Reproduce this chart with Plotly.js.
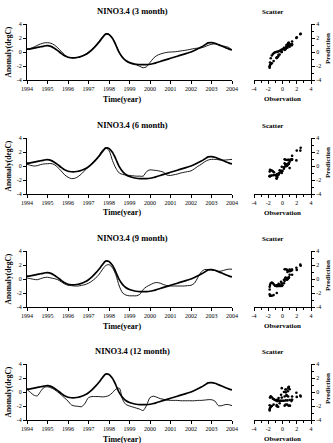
<!DOCTYPE html>
<html><head><meta charset="utf-8">
<script src="https://cdn.plot.ly/plotly-3.0.1.min.js"></script>
<style>html,body{margin:0;padding:0;background:#fff;}#chart{width:333px;height:443px;}</style>
</head><body><div id="chart"></div>
<script>
// ---- data (values every 2 months, Jan 1994 .. Jan 2004) ----
const startYear = 1994;
const stepYears = 2 / 12;
const yearTicks = [1994,1995,1996,1997,1998,1999,2000,2001,2002,2003,2004];
const panelTitles = ["NINO3.4 (3 month)","NINO3.4 (6 month)","NINO3.4 (9 month)","NINO3.4 (12 month)"];
const scatterTicks = [-4,-2,0,2,4];
const anomalyTicks = [-4,-2,0,2,4];

const observed = [
  0.4, 0.45, 0.55, 0.65, 0.75, 0.85,
  0.9, 0.8, 0.55, 0.2, -0.2, -0.55,
  -0.75, -0.82, -0.82, -0.75, -0.6, -0.4,
  -0.1, 0.3, 0.8, 1.35, 2.0, 2.55,
  2.5, 1.95, 1.0, -0.1, -0.8, -1.25,
  -1.5, -1.65, -1.75, -1.8, -1.8, -1.8,
  -1.75, -1.65, -1.5, -1.35, -1.2, -1.05,
  -0.9, -0.75, -0.6, -0.45, -0.3, -0.15,
  0.0, 0.2, 0.45, 0.7, 1.0, 1.3,
  1.35, 1.25, 1.05, 0.85, 0.65, 0.45,
  0.3];
const pred3 = [
  0.4, 0.5, 0.7, 0.95, 1.15, 1.3,
  1.33, 1.25, 1.0, 0.6, 0.1, -0.4,
  -0.75, -0.85, -0.85, -0.78, -0.6, -0.35,
  0.0, 0.4, 0.9, 1.5, 2.1, 2.6,
  2.55, 2.0, 1.0, 0.0, -0.8, -1.3,
  -1.6, -1.75, -1.85, -2.05, -2.25, -2.1,
  -1.5, -0.9, -0.5, -0.3, -0.15, -0.05,
  0.0, 0.02, 0.08, 0.15, 0.22, 0.3,
  0.4, 0.5, 0.55, 0.6, 0.75, 0.95,
  1.1, 1.15, 1.05, 0.9, 0.8, 0.65,
  0.3];
const pred6 = [
  0.25, 0.1, 0.0, 0.05, 0.2, 0.3,
  0.33, 0.35, 0.2, -0.2, -0.7, -1.25,
  -1.6, -1.8, -1.75, -1.5, -1.1, -0.6,
  -0.1, 0.4, 0.9, 1.45, 2.2, 2.6,
  2.2, 0.8, -0.3, -1.0, -1.2, -1.3,
  -1.35, -1.4, -1.45, -1.45, -1.45, -0.8,
  -0.55, -0.6, -0.65, -0.75, -0.9, -1.3,
  -1.35, -1.25, -1.15, -1.0, -0.9, -0.8,
  -0.7, -0.4, -0.05, 0.25, 0.6, 0.85,
  0.95, 0.95, 0.9, 0.85, 0.85, 0.9,
  0.95];
const pred9 = [
  0.15, 0.05, -0.05, -0.1, 0.05, 0.2,
  0.25, 0.15, 0.05, -0.1, -0.4, -0.7,
  -0.9, -0.95, -1.0, -1.0, -0.9, -0.8,
  -0.6, -0.3, 0.1, 0.6, 1.3, 1.9,
  2.05, 1.6, 0.6, -1.0, -2.0, -2.3,
  -2.4, -2.4, -2.4, -2.2, -1.5, -1.1,
  -0.85, -0.6, -0.5, -0.6, -0.8, -0.95,
  -1.0, -1.0, -1.0, -1.0, -1.0, -0.95,
  -0.9, -0.6, 0.2, 1.0, 1.35, 1.35,
  1.3, 1.2, 1.1, 1.15, 1.3, 1.4,
  1.4];
const pred12 = [
  0.35, -0.05, -0.45, -0.55, 0.1, 0.65,
  0.75, 0.6, 0.35, 0.0, -0.4, -0.85,
  -1.3, -1.85, -2.0, -2.05, -2.1, -1.6,
  -0.8, -0.65, -0.65, -0.65, -0.7, -0.65,
  -0.5, -0.1, 0.4, 0.55, -1.1, -1.8,
  -2.0, -2.15, -2.3, -2.45, -2.65, -1.9,
  -0.8, -0.6, -0.75, -0.95, -1.05, -1.15,
  -1.2, -1.2, -1.2, -1.25, -1.25, -1.25,
  -1.25, -1.25, -1.2, -1.2, -1.15, -1.1,
  -1.1, -1.3, -1.95, -1.95, -1.8, -1.8,
  -1.95];
const predictions = [pred3, pred6, pred9, pred12];

// ---- build figure ----
const W = 333, H = 443;
const times = observed.map((_, i) => startYear + i * stepYears);
const FONT = "Liberation Serif, Times New Roman, serif";
const px = v => v / W;
const py = v => 1 - v / H;

const tops = [24, 138, 251, 364];
const plotH = 56;
const tsX = [27, 232];
const scX = [254, 311];

const data = [];
const layout = {
  width: W, height: H,
  margin: {l: 0, r: 0, t: 0, b: 0},
  paper_bgcolor: '#fff', plot_bgcolor: '#fff',
  showlegend: false,
  font: {family: FONT, color: '#000', size: 6},
  annotations: []
};

function ann(text, x, y, size, opts) {
  layout.annotations.push(Object.assign({
    text: text, xref: 'paper', yref: 'paper', x: px(x), y: py(y),
    xanchor: 'center', yanchor: 'middle', showarrow: false,
    font: {family: FONT, size: size, color: '#000'}
  }, opts || {}));
}

for (let i = 0; i < 4; i++) {
  const a = 2 * i + 1, b = 2 * i + 2;
  const top = tops[i];
  const yDom = [py(top + plotH), py(top)];
  // time series
  data.push({x: times, y: predictions[i], xaxis: 'x' + a, yaxis: 'y' + a, type: 'scatter', mode: 'lines',
    line: {color: '#000', width: 0.9, shape: 'spline', smoothing: 0.8}, hoverinfo: 'skip'});
  data.push({x: times, y: observed, xaxis: 'x' + a, yaxis: 'y' + a, type: 'scatter', mode: 'lines',
    line: {color: '#000', width: 1.7, shape: 'spline', smoothing: 0.8}, hoverinfo: 'skip'});
  // scatter
  data.push({x: observed, y: predictions[i], xaxis: 'x' + b, yaxis: 'y' + b, type: 'scatter', mode: 'markers',
    marker: {color: '#000', size: 2.6, symbol: 'circle'}, hoverinfo: 'skip'});

  const common = {showgrid: false, zeroline: false, showline: true, linecolor: '#000', linewidth: 1,
    ticks: 'outside', ticklen: 3, tickwidth: 1, tickcolor: '#000',
    tickfont: {family: FONT, size: 6, color: '#000'}, fixedrange: true};
  layout['xaxis' + a] = Object.assign({}, common, {domain: [px(tsX[0]), px(tsX[1])], anchor: 'y' + a,
    range: [1994, 2004], tickmode: 'array', tickvals: yearTicks, ticktext: yearTicks.map(String)});
  layout['yaxis' + a] = Object.assign({}, common, {domain: yDom, anchor: 'x' + a,
    range: [-4, 4], tickmode: 'array', tickvals: anomalyTicks, ticktext: anomalyTicks.map(String)});
  layout['xaxis' + b] = Object.assign({}, common, {domain: [px(scX[0]), px(scX[1])], anchor: 'y' + b,
    range: [-4, 4], tickmode: 'array', tickvals: scatterTicks, ticktext: scatterTicks.map(String),
    minor: {dtick: 1, tick0: 0, ticks: 'outside', ticklen: 2, tickcolor: '#000'}});
  layout['yaxis' + b] = Object.assign({}, common, {domain: yDom, anchor: 'x' + b, side: 'right',
    range: [-4, 4], tickmode: 'array', tickvals: scatterTicks, ticktext: scatterTicks.map(String),
    minor: {dtick: 1, tick0: 0, ticks: 'outside', ticklen: 2, tickcolor: '#000'}});

  ann('<b>' + panelTitles[i] + '</b>', 132, top - 13, 8.5);
  ann('<b>Time(year)</b>', 122, top + plotH + 19, 8);
  ann('<b>Anomaly(degC)</b>', 7.5, top + plotH / 2, 7.5, {textangle: -90});
  ann('<b>Scatter</b>', 272, top - 12, 7);
  ann('<b>Observation</b>', 282, top + plotH + 19, 7);
  ann('<b>Prediction</b>', 328, top + plotH / 2 - 3, 7, {textangle: -90});
}

Plotly.newPlot('chart', data, layout, {staticPlot: true, displayModeBar: false});
</script>
</body></html>
